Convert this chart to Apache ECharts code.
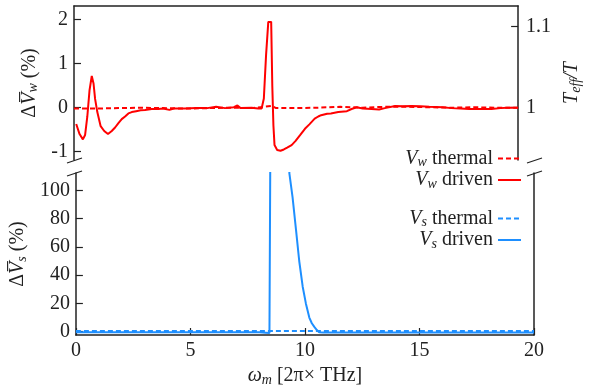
<!DOCTYPE html>
<html>
<head>
<meta charset="utf-8">
<script src="https://cdn.jsdelivr.net/npm/echarts@6/dist/echarts.min.js"></script>
<style>
  html, body { margin: 0; padding: 0; background: #fff; }
  #chart { width: 591px; height: 388px; }
</style>
</head>
<body>
<div id="chart"></div>
<script>
// top panel: Delta V_w (%) vs omega_m
const wDrivenOmega = [0.1, 0.25, 0.4, 0.5, 0.6, 0.7, 0.8, 0.88, 0.95, 1.05, 1.2, 1.36, 1.53, 1.7, 1.85, 2.0, 2.15, 2.3, 2.45, 2.6, 2.8, 3.0, 3.2, 3.5, 3.8, 4.0, 4.3, 4.5, 5.0, 5.5, 6.0, 6.4, 6.8, 7.2, 7.36, 7.5, 8.0, 8.3, 8.45, 8.55, 8.65, 8.75, 8.88, 8.93, 8.98, 9.03, 9.15, 9.3, 9.45, 9.6, 9.8, 9.97, 10.19, 10.4, 10.6, 10.84, 11.0, 11.13, 11.4, 11.57, 11.9, 12.29, 12.5, 12.73, 13.0, 13.4, 13.74, 14.0, 14.46, 14.8, 15.2, 15.6, 16.0, 16.6, 17.0, 17.4, 17.8, 18.3, 18.8, 19.2, 19.5, 20.0];
const wDriven = [-0.37, -0.6, -0.72, -0.62, -0.2, 0.4, 0.72, 0.55, 0.2, -0.1, -0.42, -0.53, -0.6, -0.53, -0.45, -0.35, -0.26, -0.2, -0.13, -0.1, -0.08, -0.06, -0.05, -0.03, -0.03, -0.02, -0.05, -0.02, -0.02, -0.01, -0.01, 0.02, -0.01, 0.01, 0.05, -0.01, 0.0, -0.02, -0.02, 0.21, 1.2, 1.95, 1.95, 0.5, -0.4, -0.85, -0.96, -0.98, -0.95, -0.91, -0.85, -0.76, -0.62, -0.48, -0.38, -0.25, -0.2, -0.17, -0.14, -0.13, -0.1, -0.08, -0.03, 0.01, -0.02, -0.03, -0.04, -0.01, 0.04, 0.03, 0.04, 0.03, 0.02, 0.01, -0.01, -0.02, -0.03, -0.03, -0.03, -0.01, 0.0, 0.0];
const wThermalOmega = [0, 1, 2, 3, 4, 5, 6, 7, 8, 8.9, 9.1, 10, 11, 12, 13, 14, 15, 16, 17, 18, 19, 20];
const wThermal = [-0.02, -0.02, -0.01, 0.0, -0.01, -0.02, -0.01, 0.0, -0.01, 0.04, -0.01, -0.01, 0.0, 0.02, 0.0, 0.02, 0.02, 0.01, 0.0, 0.01, 0.0, 0.0];

// bottom panel: Delta V_s (%) vs omega_m (goes off the top between ~8.6 and ~9.3)
const sDrivenOmega = [0, 2, 4, 6, 8, 8.45, 8.52, 8.57, 8.9, 9.2, 9.32, 9.46, 9.61, 9.75, 9.9, 10.04, 10.19, 10.3, 10.41, 10.52, 10.62, 10.8, 12, 14, 16, 18, 20];
const sDriven = [-0.4, -0.4, -0.3, -0.4, -0.4, -0.9, -0.5, 400, 600, 300, 112, 95, 72, 50, 32, 20, 10, 6, 3.4, 1.2, -0.3, -0.6, -0.6, -0.5, -0.5, -0.5, -0.5];
const sThermalOmega = [0, 5, 10, 15, 20];
const sThermal = [0.5, 0.5, 0.5, 0.5, 0.5];

const xTicks = [0, 5, 10, 15, 20];
const wTicks = [-1, 0, 1, 2];
const teffTicks = [1, 1.1];
const sTicks = [0, 20, 40, 60, 80, 100];

const RED = '#ff0000';
const BLUE = '#1e8fff';
const FONT = 'Liberation Serif';

const zip = (xs, ys) => xs.map((x, i) => [x, ys[i]]);

const rich = {
  n: { fontFamily: FONT, fontSize: 20, color: '#222' },
  i: { fontFamily: FONT, fontSize: 20, fontStyle: 'italic', color: '#222' },
  s: { fontFamily: FONT, fontSize: 14, fontStyle: 'italic', color: '#222', padding: [8, 0, 0, 0] }
};

const legendLabel = name => {
  const [v, kind] = name.split(' ');
  const sub = v.split('_')[1];
  return '{i|V}{s|' + sub + '}{n| ' + kind + '}';
};

const axisLine = { show: true, onZero: false, lineStyle: { color: '#222', width: 1.5 } };
const tickIn = vals => ({ show: true, inside: true, length: 7, customValues: vals, lineStyle: { color: '#222', width: 1.2 } });
const labelStyle = { fontFamily: FONT, fontSize: 20, color: '#222' };

const legendBase = {
  orient: 'vertical', align: 'right', right: 69, padding: 0,
  itemWidth: 23, itemHeight: 12, itemGap: 0,
  formatter: legendLabel,
  itemStyle: { opacity: 0 },
  textStyle: { rich: rich, lineHeight: 21 },
  selectedMode: false
};

const option = {
  animation: false,
  backgroundColor: '#fff',
  grid: [
    { left: 74, right: 57, top: 6, height: 154 },
    { left: 74, right: 57, top: 173, height: 169 }
  ],
  xAxis: [
    {
      gridIndex: 0, type: 'value', min: 0, max: 20, position: 'top',
      axisLine: axisLine, axisTick: { show: false }, axisLabel: { show: false }, splitLine: { show: false }
    },
    {
      gridIndex: 1, type: 'value', min: 0, max: 20, position: 'bottom',
      axisLine: axisLine, axisTick: tickIn(xTicks),
      axisLabel: Object.assign({ customValues: xTicks, margin: 6 }, labelStyle),
      splitLine: { show: false },
      name: '{i|ω}{s|m}{n| [2π× THz]}', nameLocation: 'middle', nameGap: 30,
      nameTextStyle: { rich: rich }
    }
  ],
  yAxis: [
    {
      gridIndex: 0, type: 'value', min: -1.189, max: 2.311, position: 'left',
      axisLine: axisLine, axisTick: tickIn(wTicks),
      axisLabel: Object.assign({ customValues: wTicks, margin: 6 }, labelStyle),
      splitLine: { show: false },
      name: '{n|Δ}{i|V\u0305}{s|w}{n| (%)}', nameLocation: 'middle', nameGap: 22, nameRotate: 90,
      nameTextStyle: { rich: rich }
    },
    {
      gridIndex: 0, type: 'value', min: 0.9354, max: 1.1256, position: 'right',
      axisLine: axisLine, axisTick: tickIn(teffTicks),
      axisLabel: Object.assign({ customValues: teffTicks, margin: 8, formatter: v => String(Math.round(v * 10) / 10) }, labelStyle),
      splitLine: { show: false },
      name: '{i|T}{s|eff}{i|/T}', nameLocation: 'middle', nameGap: 40, nameRotate: 90,
      nameTextStyle: { rich: rich }
    },
    {
      gridIndex: 1, type: 'value', min: -2.31, max: 112.2, position: 'left',
      axisLine: axisLine, axisTick: tickIn(sTicks),
      axisLabel: Object.assign({ customValues: sTicks, margin: 6 }, labelStyle),
      splitLine: { show: false },
      name: '{n|Δ}{i|V\u0305}{s|s}{n| (%)}', nameLocation: 'middle', nameGap: 36, nameRotate: 90,
      nameTextStyle: { rich: rich }
    },
    {
      gridIndex: 1, type: 'value', min: -2.31, max: 112.2, position: 'right',
      axisLine: axisLine, axisTick: { show: false }, axisLabel: { show: false }, splitLine: { show: false }
    }
  ],
  legend: [
    Object.assign({ data: ['V_w thermal', 'V_w driven'], top: 148 }, legendBase),
    Object.assign({ data: ['V_s thermal', 'V_s driven'], top: 208 }, legendBase)
  ],
  series: [
    {
      name: 'V_w thermal', type: 'line', xAxisIndex: 0, yAxisIndex: 0, symbol: 'none',
      data: zip(wThermalOmega, wThermal),
      lineStyle: { color: RED, width: 2, type: [5, 3] }, itemStyle: { color: RED }
    },
    {
      name: 'V_w driven', type: 'line', xAxisIndex: 0, yAxisIndex: 0, symbol: 'none',
      data: zip(wDrivenOmega, wDriven),
      lineStyle: { color: RED, width: 2 }, itemStyle: { color: RED }
    },
    {
      name: 'V_s thermal', type: 'line', xAxisIndex: 1, yAxisIndex: 2, symbol: 'none',
      data: zip(sThermalOmega, sThermal),
      lineStyle: { color: BLUE, width: 2, type: [5, 3] }, itemStyle: { color: BLUE }
    },
    {
      name: 'V_s driven', type: 'line', xAxisIndex: 1, yAxisIndex: 2, symbol: 'none',
      data: zip(sDrivenOmega, sDriven),
      lineStyle: { color: BLUE, width: 2 }, itemStyle: { color: BLUE }
    }
  ],
  // axis break marks
  graphic: [
    { type: 'line', shape: { x1: 67, y1: 163, x2: 82, y2: 158 }, style: { stroke: '#222', lineWidth: 1.2 } },
    { type: 'line', shape: { x1: 67, y1: 176, x2: 82, y2: 171 }, style: { stroke: '#222', lineWidth: 1.2 } },
    { type: 'line', shape: { x1: 527, y1: 163, x2: 542, y2: 158 }, style: { stroke: '#222', lineWidth: 1.2 } },
    { type: 'line', shape: { x1: 527, y1: 176, x2: 542, y2: 171 }, style: { stroke: '#222', lineWidth: 1.2 } }
  ]
};

const chart = echarts.init(document.getElementById('chart'), null, { renderer: 'canvas' });
chart.setOption(option);
</script>
</body>
</html>
